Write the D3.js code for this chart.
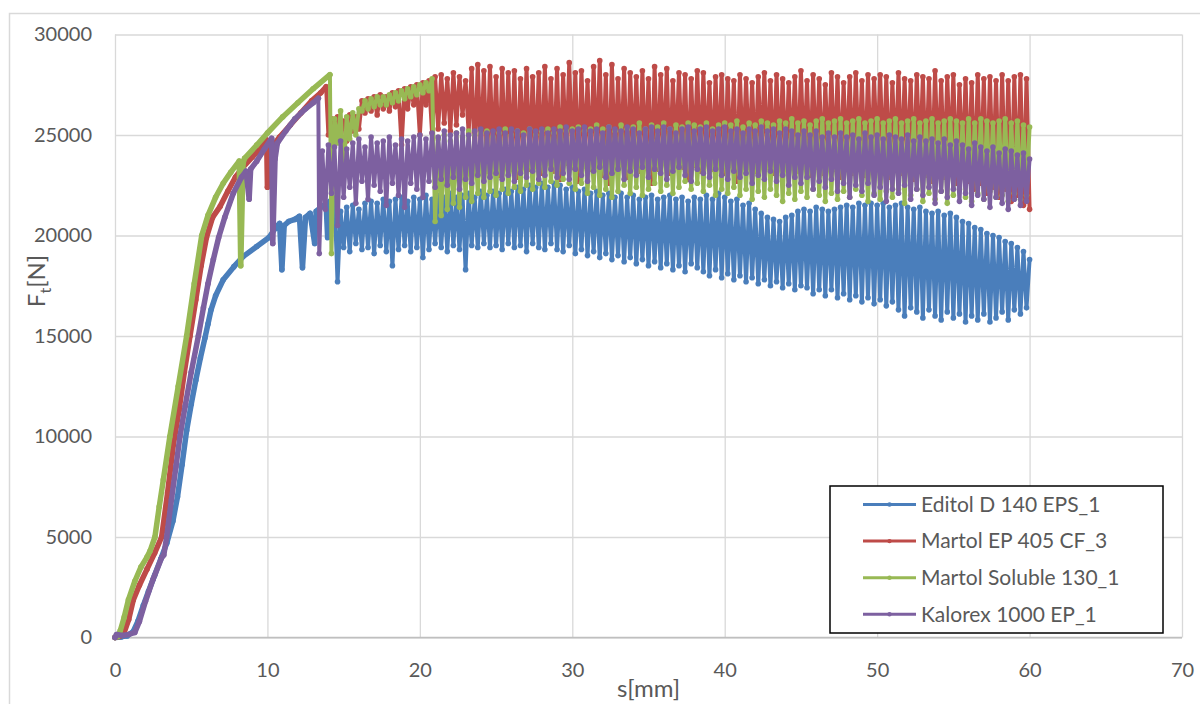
<!DOCTYPE html>
<html>
<head>
<meta charset="utf-8">
<script src="https://cdn.jsdelivr.net/npm/d3@7"></script>
<style>
  body { margin: 0; background: #fff; }
  svg { display: block; font-family: Lato, "Open Sans", sans-serif; }
</style>
</head>
<body>
<svg id="chart" width="1200" height="704"></svg>
<script>
// axis ticks
const xTicks = [0, 10, 20, 30, 40, 50, 60, 70];
const yTicks = [0, 5000, 10000, 15000, 20000, 25000, 30000];

const seriesNames = ["Editol D 140 EPS_1", "Martol EP 405 CF_3", "Martol Soluble 130_1", "Kalorex 1000 EP_1"];
const seriesColors = ["#4a7ebb", "#be4b48", "#98b954", "#7d60a0"];

// sampling step of the cyclic (oscillating) part, mm
const SAMPLE_STEP = 0.2;

// Editol D 140 EPS_1 : loading curve [s, F] then cyclic part from 14.6 mm
const editolRamp = [[0, 0], [0.4, 30], [0.8, 80], [1.2, 300], [1.5, 800], [1.86, 1600], [2.2, 2300], [2.6, 3100],
  [3.0, 3900], [3.4, 4700], [3.8, 5800], [4.1, 7000], [4.4, 8600], [4.7, 10300], [5.0, 11600], [5.3, 12800],
  [5.6, 13900], [5.9, 14900], [6.1, 15600], [6.3, 16300], [6.6, 17000], [7.1, 17800], [7.8, 18450], [8.4, 18950],
  [9.3, 19450], [10.1, 19900], [10.6, 20450], [10.8, 20600], [10.95, 18300], [11.1, 20500], [11.4, 20700],
  [11.8, 20800], [12.1, 20950], [12.3, 18400], [12.5, 20900], [12.8, 21100], [13.1, 19600], [13.2, 21200],
  [13.5, 21400], [13.85, 21600], [13.95, 19900], [14.1, 21700], [14.4, 21850]];
const editolCycStart = 14.6;
const editolCyc = [
  17700, 21200, 19400, 21400, 19200, 21500, 19600, 21300, 19300, 21600,
  19400, 21700, 19100, 21600, 19500, 21800, 19200, 21700, 18500, 21800,
  19300, 21900, 19500, 21700, 19200, 21900, 19400, 21800, 18900, 22000,
  19300, 21800, 19600, 22000, 19400, 21900, 19200, 22100, 19500, 21900,
  19300, 22000, 18300, 22100, 19500, 21900, 19400, 22200, 19600, 22000,
  19400, 22200, 19500, 22100, 19300, 22300, 19600, 22200, 19400, 22400,
  19500, 22300, 19200, 22500, 19600, 22400, 19400, 22600, 19300, 22400,
  19600, 22600, 19300, 22500, 19200, 22300, 19500, 22400, 19100, 22200,
  19300, 22300, 19000, 22100, 19200, 22200, 18900, 22000, 19100, 22100,
  18800, 21900, 19000, 22100, 18700, 21900, 18900, 22000, 18600, 21800,
  18800, 21900, 18500, 22000, 18700, 21800, 18400, 21900, 18600, 22000,
  18300, 21800, 18500, 21900, 18200, 21700, 18600, 21900, 18400, 21800,
  18200, 22000, 18000, 21800, 18300, 22100, 17900, 21900, 18100, 21700,
  17800, 21800, 18000, 21500, 17700, 21600, 17900, 21300, 17600, 21100,
  17800, 20900, 17500, 20800, 17700, 20700, 17400, 20900, 17600, 21000,
  17300, 21200, 17500, 21300, 17400, 21200, 17100, 21400, 17300, 21300,
  17000, 21200, 17300, 21300, 16900, 21400, 17100, 21500, 16800, 21400,
  17000, 21600, 16700, 21500, 16900, 21600, 16600, 21500, 16800, 21600,
  16500, 21400, 16700, 21500, 16300, 21600, 16000, 21400, 16400, 21300,
  16200, 21400, 15900, 21200, 16300, 21100, 16000, 21200, 15800, 21000,
  16200, 21100, 15900, 20900, 16100, 20700, 15700, 20600, 16000, 20400,
  15800, 20300, 16100, 20100, 15700, 20000, 15900, 19900, 16200, 19700,
  15800, 19600, 16300, 19400, 16100, 19200, 16400, 18800];

// Martol EP 405 CF_3
const martolEpRamp = [[0, 0], [0.3, 60], [0.6, 250], [0.9, 900], [1.2, 1870], [1.6, 2600], [2.1, 3400], [2.6, 4200],
  [3.06, 5000], [3.45, 7200], [3.83, 9600], [4.2, 11300], [4.55, 13200], [4.92, 15000], [5.3, 16800], [5.65, 18500],
  [6.0, 19900], [6.4, 20900], [6.9, 21450], [7.4, 22200], [7.9, 22900], [8.4, 23400], [9.0, 23900], [9.5, 24300],
  [9.95, 24750], [10.0, 22400], [10.15, 23200], [10.3, 24400], [10.8, 24900], [11.5, 25500], [12.2, 26100],
  [12.9, 26700], [13.5, 27100], [13.85, 27400]];
const martolEpCycStart = 14.0;
const martolEpCyc = [
  25000, 25800, 24800, 25900, 25100, 25700, 24700, 26000, 25200, 25900,
  25300, 26700, 26100, 26800, 26200, 26900, 26000, 27000, 26300, 26900,
  26200, 27100, 26400, 27200, 24500, 27300, 26300, 27400, 26500, 27500,
  25000, 27600, 26500, 27700, 25100, 27900, 25300, 28000, 25600, 27800,
  25200, 28100, 25500, 27900, 26000, 27700, 25100, 28300, 23800, 28500,
  24000, 28200, 23200, 28400, 23700, 27900, 23000, 28300, 23600, 28100,
  23400, 28200, 22900, 27800, 23800, 28300, 23300, 27900, 23500, 28100,
  23100, 28400, 23700, 27800, 23200, 28300, 22800, 28000, 23600, 28600,
  23400, 28100, 22700, 28200, 23800, 27700, 23300, 28400, 23500, 28700,
  23000, 28000, 22600, 28500, 23400, 27800, 23600, 28300, 22900, 28100,
  23700, 27900, 23200, 28200, 23500, 27800, 22600, 28400, 23300, 28000,
  23600, 28300, 23100, 27700, 23800, 28100, 23400, 28000, 22800, 27800,
  23500, 28200, 23200, 28100, 23700, 27600, 23300, 27900, 23600, 28000,
  23100, 27800, 23500, 27700, 22700, 28000, 23400, 27800, 23600, 27600,
  23200, 27900, 23700, 28100, 23400, 27700, 23100, 28000, 23500, 27800,
  23300, 27600, 23600, 27900, 23200, 28200, 23500, 27700, 23000, 28000,
  23400, 27800, 23100, 27500, 23600, 28100, 23300, 27900, 22900, 27600,
  23500, 27900, 23100, 28100, 23400, 27700, 23000, 28000, 23300, 27800,
  23600, 28000, 23200, 27900, 22900, 27600, 23400, 28100, 23100, 27800,
  23300, 27700, 22800, 28000, 23500, 27900, 23000, 27800, 22700, 28200,
  23200, 27700, 22900, 27900, 23400, 28000, 22600, 27500, 23100, 27800,
  22700, 27600, 22300, 28000, 22600, 27800, 22100, 27900, 22400, 27700,
  21900, 28000, 22300, 27700, 21700, 27900, 22000, 28000, 21500, 27800,
  21300];

// Martol Soluble 130_1
const martolSolRamp = [[0, 0], [0.2, 50], [0.35, 350], [0.6, 1000], [0.88, 1870], [1.3, 2800], [1.7, 3500],
  [2.1, 4000], [2.3, 4300], [2.62, 5000], [2.9, 6500], [3.17, 7840], [3.6, 10000], [4.15, 12500], [4.7, 15000],
  [5.2, 17600], [5.69, 20000], [6.1, 21000], [6.6, 21900], [7.1, 22600], [7.6, 23150], [8.15, 23700],
  [8.25, 18500], [8.4, 23600], [8.5, 23840], [9.3, 24500], [10.0, 25100], [11.0, 25900], [12.0, 26600],
  [13.0, 27300], [14.1, 28000]];
const martolSolCycStart = 14.2;
const martolSolCyc = [
  19100, 25800, 24600, 26200, 23000, 25900, 24800, 26100, 25000, 26300,
  26200, 26700, 26300, 26800, 26400, 26900, 26500, 26900, 26500, 27000,
  26600, 27100, 26700, 27200, 26800, 27300, 26900, 27400, 27000, 27500,
  27100, 27600, 27200, 27800, 20700, 24800, 21000, 25000, 21300, 24700,
  21600, 25100, 21400, 24900, 21900, 25200, 21700, 25000, 22100, 25100,
  21900, 25200, 22200, 24900, 22000, 25100, 22300, 25300, 22100, 25000,
  22400, 25200, 22200, 25100, 22500, 25300, 22300, 25000, 22600, 25200,
  22400, 25300, 22700, 25100, 22500, 25400, 22800, 25200, 22600, 25300,
  22300, 25400, 22600, 25200, 22100, 25300, 22400, 25500, 22000, 25300,
  22300, 25400, 21900, 25200, 22200, 25500, 22500, 25300, 22100, 25400,
  22400, 25600, 22000, 25300, 22300, 25500, 22600, 25400, 22200, 25600,
  22500, 25300, 22100, 25500, 22400, 25400, 22700, 25600, 22300, 25500,
  22600, 25400, 22200, 25600, 22500, 25300, 22000, 25500, 22300, 25600,
  22100, 25500, 22400, 25700, 22000, 25400, 22300, 25600, 21800, 25500,
  22200, 25700, 21900, 25600, 22300, 25500, 22000, 25700, 21700, 25600,
  22100, 25800, 21800, 25600, 22200, 25700, 21900, 25500, 22300, 25700,
  22000, 25800, 21700, 25600, 22100, 25700, 21800, 25800, 22200, 25600,
  21900, 25700, 22300, 25800, 22000, 25600, 21700, 25700, 22100, 25800,
  21800, 25600, 22200, 25700, 21900, 25800, 22300, 25600, 21600, 25700,
  22000, 25800, 22300, 25600, 21700, 25700, 22100, 25800, 21800, 25600,
  22200, 25700, 21600, 25800, 22000, 25700, 22300, 25600, 21900, 25800,
  21700, 25600, 22100, 25800, 21800, 25700, 22200, 25600, 21900, 25700,
  22000, 25800, 21700, 25600, 22100, 25700, 21800, 25500, 22000, 25400];

// Kalorex 1000 EP_1
const kalorexRamp = [[0, 0], [0.1, 150], [0.5, 100], [0.9, 150], [1.3, 250], [1.6, 800], [2.0, 1800], [2.5, 2900],
  [3.08, 4000], [3.2, 4100], [3.39, 5000], [3.7, 6840], [4.0, 8500], [4.26, 10000], [4.6, 11500], [5.0, 13200],
  [5.47, 15000], [5.8, 16400], [6.1, 17600], [6.45, 18800], [6.8, 19900], [7.2, 20900], [7.76, 22100],
  [8.3, 22900], [8.6, 23200], [8.8, 21800], [8.9, 23300], [9.3, 23700], [9.8, 24300], [10.28, 24830],
  [10.35, 19600], [10.5, 23800], [10.65, 24590], [11.2, 25200], [11.8, 25800], [12.5, 26300], [13.0, 26600],
  [13.34, 26830]];
const kalorexCycStart = 13.4;
const kalorexCyc = [
  19100, 24200, 21300, 24500, 22100, 24400, 20500, 24700, 21900, 24300,
  22400, 24600, 21600, 24800, 22700, 24400, 21800, 24900, 22500, 24600,
  22200, 24700, 21500, 24900, 22600, 24500, 22000, 24800, 21400, 24700,
  22600, 24900, 22300, 25000, 21900, 24800, 22700, 25100, 22400, 24900,
  22800, 25200, 22500, 25000, 22900, 25100, 22300, 25300, 22800, 25000,
  22600, 25200, 23000, 25300, 22700, 25100, 22900, 25200, 23100, 25300,
  22800, 25100, 23000, 25300, 22700, 25200, 23100, 25000, 22900, 25300,
  23200, 25200, 22800, 25300, 23000, 25100, 23300, 25300, 22900, 25200,
  23100, 25400, 22800, 25200, 23300, 25300, 23000, 25400, 22700, 25200,
  23200, 25300, 23400, 25100, 22900, 25400, 23100, 25300, 23300, 25200,
  22800, 25400, 23200, 25300, 23000, 25100, 23400, 25300, 22900, 25400,
  23300, 25200, 23100, 25400, 22800, 25300, 23200, 25100, 23400, 25300,
  23000, 25400, 22700, 25200, 23300, 25300, 23100, 25400, 22900, 25200,
  23300, 25300, 23000, 25400, 22800, 25200, 23200, 25300, 22900, 25100,
  23100, 25300, 22600, 25200, 23000, 25400, 22800, 25200, 23200, 25300,
  22700, 25100, 23000, 25300, 22500, 25200, 22900, 25000, 22600, 25200,
  22900, 25000, 22300, 25200, 22700, 24900, 22400, 25100, 22800, 24900,
  22200, 25100, 22600, 24900, 21900, 25000, 22500, 24800, 22200, 25100,
  22600, 24900, 22000, 25000, 22400, 24800, 21700, 25000, 22300, 24900,
  22100, 24800, 22500, 25000, 21800, 24700, 22300, 24900, 22000, 24700,
  22400, 24800, 21600, 24600, 22200, 24800, 21900, 24500, 22300, 24700,
  21700, 24500, 22100, 24300, 21500, 24600, 22000, 24400, 21800, 24200,
  21400, 24400, 21900, 24100, 21600, 24300, 21300, 24200, 21800, 24000,
  21500, 24100, 21700, 23800];

const width = 1200, height = 704;
const margin = {top: 34.5, right: 18, bottom: 66.5, left: 115};
const TEXT = "#595959", GRID = "#d9d9d9";

const svg = d3.select("#chart");

// chart area frame
svg.append("rect")
  .attr("x", 9.5).attr("y", 13.5)
  .attr("width", 1300).attr("height", 800)
  .attr("fill", "#fff")
  .attr("stroke", GRID)
  .attr("stroke-width", 1.5);

const x = d3.scaleLinear().domain([0, 70]).range([margin.left, width - margin.right]);
const y = d3.scaleLinear().domain([0, 30000]).range([height - margin.bottom, margin.top]);

let xAxis = svg.append("g")
  .attr("transform", `translate(0, ${y(0)})`)
  .call(d3.axisBottom(x)
    .tickValues(xTicks)
    .tickSize(-(y(0) - y(30000)))
    .tickPadding(25)
    .tickFormat(d3.format("d")));

let yAxis = svg.append("g")
  .attr("transform", `translate(${x(0)}, 0)`)
  .call(d3.axisLeft(y)
    .tickValues(yTicks)
    .tickSize(-(x(70) - x(0)))
    .tickPadding(23)
    .tickFormat(d3.format("d")));

[xAxis, yAxis].forEach(a => {
  a.select(".domain").remove();
  a.selectAll(".tick line").attr("stroke", GRID).attr("stroke-width", 1.3);
  a.selectAll(".tick text")
    .attr("fill", TEXT)
    .style("font-size", "20px")
    .style("font-family", "Lato, 'Open Sans', sans-serif");
});

// horizontal axis line
svg.append("line")
  .attr("x1", x(0)).attr("x2", x(70))
  .attr("y1", y(0)).attr("y2", y(0))
  .attr("stroke", "#bfbfbf")
  .attr("stroke-width", 1.5);

// axis titles
svg.append("text")
  .attr("x", (x(0) + x(70)) / 2).attr("y", 697)
  .attr("text-anchor", "middle")
  .attr("fill", TEXT)
  .style("font-size", "24px")
  .text("s[mm]");

let yTitle = svg.append("text")
  .attr("transform", "translate(45, 281) rotate(-90)")
  .attr("text-anchor", "middle")
  .attr("fill", TEXT)
  .style("font-size", "24px");
yTitle.append("tspan").text("F");
yTitle.append("tspan").attr("dy", 6).style("font-size", "16px").text("t");
yTitle.append("tspan").attr("dy", -6).text("[N]");

// series
const ramps = [editolRamp, martolEpRamp, martolSolRamp, kalorexRamp];
const cycStarts = [editolCycStart, martolEpCycStart, martolSolCycStart, kalorexCycStart];
const cycles = [editolCyc, martolEpCyc, martolSolCyc, kalorexCyc];

let line = d3.line()
  .x(d => x(d[0]))
  .y(d => y(d[1]));

ramps.forEach((ramp, k) => {
  let cyc = cycles[k].map((f, i) => [+(cycStarts[k] + i * SAMPLE_STEP).toFixed(2), f]);
  let pts = ramp.concat(cyc);
  let g = svg.append("g");

  g.append("path")
    .datum(pts)
    .attr("d", line)
    .attr("fill", "none")
    .attr("stroke", seriesColors[k])
    .attr("stroke-width", 4)
    .attr("stroke-linejoin", "round");

  // loading curve is drawn thick: its markers overlap into a solid band
  g.append("path")
    .datum(ramp)
    .attr("d", line)
    .attr("fill", "none")
    .attr("stroke", seriesColors[k])
    .attr("stroke-width", 5.5)
    .attr("stroke-linejoin", "round")
    .attr("stroke-linecap", "round");

  g.selectAll("circle")
    .data(pts)
    .join("circle")
    .attr("cx", d => x(d[0]))
    .attr("cy", d => y(d[1]))
    .attr("r", 2.8)
    .attr("fill", seriesColors[k]);
});

// legend
let legend = svg.append("g");
legend.append("rect")
  .attr("x", 830).attr("y", 486)
  .attr("width", 333).attr("height", 147)
  .attr("fill", "#fff")
  .attr("stroke", "#000")
  .attr("stroke-width", 1.5);

seriesNames.forEach((name, i) => {
  let cy = 504.5 + i * 36.6;
  legend.append("line")
    .attr("x1", 863).attr("x2", 916)
    .attr("y1", cy).attr("y2", cy)
    .attr("stroke", seriesColors[i])
    .attr("stroke-width", 3);
  legend.append("circle")
    .attr("cx", 889.5).attr("cy", cy)
    .attr("r", 2.2)
    .attr("fill", seriesColors[i]);
  legend.append("text")
    .attr("x", 921).attr("y", cy)
    .attr("dy", "0.35em")
    .attr("fill", TEXT)
    .style("font-size", "21px")
    .text(name);
});
</script>
</body>
</html>
